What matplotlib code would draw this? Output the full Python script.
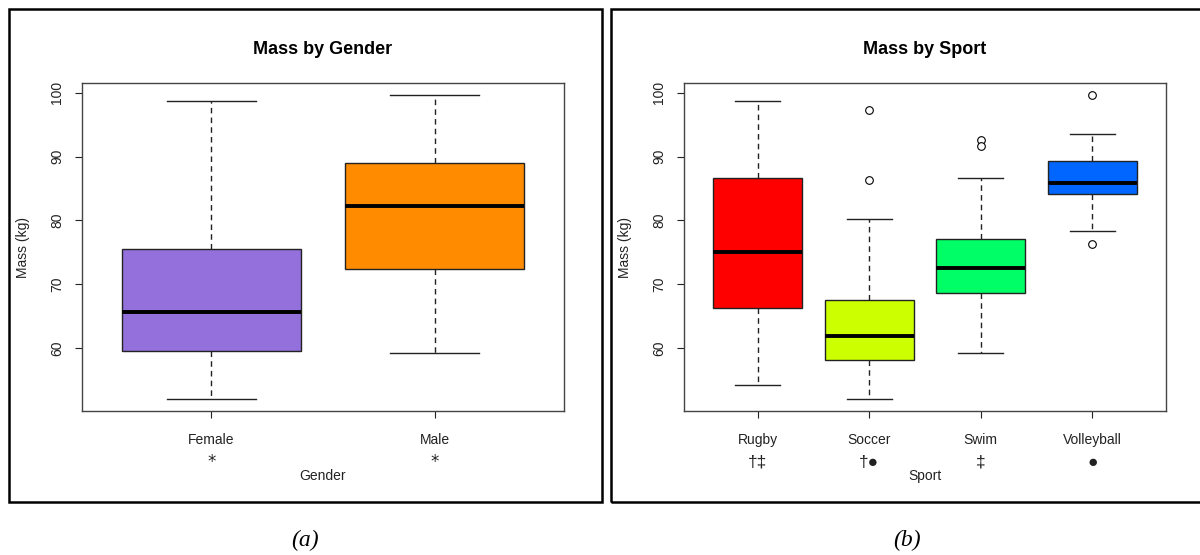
import matplotlib
matplotlib.use("Agg")
import matplotlib.pyplot as plt
from matplotlib.patches import Rectangle

plt.rcParams['font.family'] = ['Liberation Sans', 'DejaVu Sans']

# five-number summaries (kg) read per group
gender = ['Female', 'Male']
gender_marks = ['*', '*']
gender_colors = ['#9370DB', '#FF8C00']
gender_lo = [52.1, 59.3]
gender_q1 = [59.6, 72.4]
gender_med = [65.7, 82.2]
gender_q3 = [75.5, 89.0]
gender_hi = [98.7, 99.6]
gender_out = [[], []]

sport = ['Rugby', 'Soccer', 'Swim', 'Volleyball']
sport_marks = ['\u2020\u2021', '\u2020\u25cf', '\u2021', '\u25cf']
sport_colors = ['#FF0000', '#CCFF00', '#00FF66', '#0066FF']
sport_lo = [54.3, 52.1, 59.3, 78.4]
sport_q1 = [66.3, 58.1, 68.7, 84.2]
sport_med = [75.0, 62.0, 72.6, 85.9]
sport_q3 = [86.7, 67.5, 77.1, 89.3]
sport_hi = [98.7, 80.3, 86.6, 93.6]
sport_out = [[], [97.2, 86.3], [92.6, 91.6], [99.6, 76.3]]

W, H = 1200, 555
fig = plt.figure(figsize=(W / 100, H / 100), dpi=100)


def px_axes(left, right, top, bottom):
    return fig.add_axes([left / W, 1 - bottom / H, (right - left) / W, (bottom - top) / H])


def rbox(ax, names, marks, colors, lo, q1, med, q3, hi, out, title, xlabel,
         mark_size=12.5, mark_family=None):
    stats = []
    for i in range(len(names)):
        stats.append(dict(whislo=lo[i], q1=q1[i], med=med[i], q3=q3[i],
                          whishi=hi[i], fliers=out[i], label=names[i]))
    n = len(names)
    pos = list(range(1, n + 1))
    bp = ax.bxp(stats, positions=pos, widths=0.8, patch_artist=True,
                showfliers=True,
                boxprops=dict(edgecolor='#222222', linewidth=1.0),
                whiskerprops=dict(color='#222222', linewidth=1.0, linestyle=(0, (4, 3))),
                capprops=dict(color='#222222', linewidth=1.0),
                medianprops=dict(color='black', linewidth=2.8, solid_capstyle='butt'),
                flierprops=dict(marker='o', markerfacecolor='white',
                                markeredgecolor='black', markersize=5.5,
                                markeredgewidth=0.8))
    for patch, c in zip(bp['boxes'], colors):
        patch.set_facecolor(c)
    for cap in bp['caps']:
        x0, x1 = cap.get_xdata()
        xc = (x0 + x1) / 2
        cap.set_xdata([xc - 0.2, xc + 0.2])

    allv = lo + hi + [v for o in out for v in o]
    vmin, vmax = min(allv), max(allv)
    pad = 0.04 * (vmax - vmin)
    ax.set_ylim(vmin - pad, vmax + pad)
    ax.set_xlim(0.5 - 0.04 * n, n + 0.5 + 0.04 * n)

    ax.set_yticks([60, 70, 80, 90, 100])
    ax.set_yticklabels(['60', '70', '80', '90', '100'], rotation=90, va='center')
    ax.set_xticks(pos)
    ax.set_xticklabels(names)
    ax.tick_params(axis='both', direction='out', length=5, width=0.8,
                   color='#222222', labelsize=10, labelcolor='#222222')
    ax.tick_params(axis='y', pad=8)
    ax.tick_params(axis='x', pad=11)
    for s in ax.spines.values():
        s.set_color('#444444')
        s.set_linewidth(1.0)

    kw = dict(family=mark_family) if mark_family else {}
    for p, m in zip(pos, marks):
        ax.annotate(m, xy=(p, 0), xycoords=('data', 'axes fraction'),
                    xytext=(0, -37), textcoords='offset points',
                    ha='center', va='center', fontsize=mark_size, color='#222222', **kw)
    ax.annotate(xlabel, xy=(0.5, 0), xycoords='axes fraction',
                xytext=(0, -46.5), textcoords='offset points',
                ha='center', va='center', fontsize=10, color='#222222')
    ax.set_ylabel('Mass (kg)', fontsize=10, color='#222222', labelpad=14)
    ax.set_title(title, fontsize=13, fontweight='bold', pad=21)


ax1 = px_axes(82, 564, 83, 411)
rbox(ax1, gender, gender_marks, gender_colors, gender_lo, gender_q1, gender_med,
     gender_q3, gender_hi, gender_out, 'Mass by Gender', 'Gender',
     mark_size=12, mark_family='DejaVu Sans')

ax2 = px_axes(684, 1166, 83, 411)
rbox(ax2, sport, sport_marks, sport_colors, sport_lo, sport_q1, sport_med,
     sport_q3, sport_hi, sport_out, 'Mass by Sport', 'Sport', mark_size=12.5)

# black frames around each panel
for x0, x1 in [(9, 602), (611, 1203)]:
    fig.patches.append(Rectangle((x0 / W, 1 - 502 / H), (x1 - x0) / W, 493 / H,
                                 transform=fig.transFigure, fill=False,
                                 edgecolor='black', linewidth=1.8))

fig.text(305 / W, 1 - 540 / H, '(a)', ha='center', va='center', fontsize=17,
         style='italic', family='Liberation Serif')
fig.text(907 / W, 1 - 540 / H, '(b)', ha='center', va='center', fontsize=17,
         style='italic', family='Liberation Serif')

fig.savefig('out.png', dpi=100)
